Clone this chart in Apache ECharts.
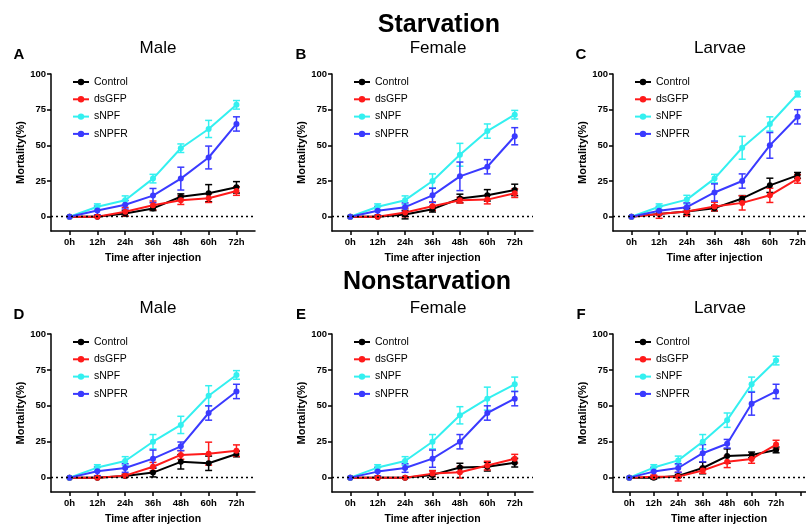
<!DOCTYPE html>
<html>
<head>
<meta charset="utf-8">
<script src="https://cdn.jsdelivr.net/npm/echarts@6/dist/echarts.min.js"></script>
<style>
  html, body { margin: 0; padding: 0; background: #fff; }
  #chart { width: 806px; height: 526px; }
</style>
</head>
<body>
<div id="chart"></div>
<script>
const hours = [0, 12, 24, 36, 48, 60, 72];
const groups = ['Control', 'dsGFP', 'sNPF', 'sNPFR'];
const colors = ['#000000', '#ff1a1a', '#33f0f0', '#3a3aff'];
const yTicks = [0, 25, 50, 75, 100];

// A - starvation, male
const aControl = [0, 0, 2.3, 5.8, 14, 16.5, 20.6];
const aControlErr = [0, 0, 2, 1.5, 2, 6, 4];
const aDsGFP = [0, 0, 3.5, 8, 11.6, 13, 18];
const aDsGFPErr = [0, 0, 3, 3, 3, 3, 3];
const aSNPF = [0, 7, 11.6, 26.7, 48, 61.5, 78.4];
const aSNPFErr = [0, 2, 3, 3, 3, 6, 3];
const aSNPFR = [0, 4.4, 8.4, 14.8, 26.7, 41.5, 65];
const aSNPFRErr = [0, 3, 3, 5, 8, 8, 5];

// B - starvation, female
const bControl = [0, 0, 1.5, 5.3, 12.8, 15, 18.8];
const bControlErr = [0, 0, 3, 2, 3, 4, 4];
const bDsGFP = [0, 0, 3, 7.4, 11.6, 12, 16.5];
const bDsGFPErr = [0, 0, 3, 3, 2, 3, 3];
const bSNPF = [0, 7, 11.6, 25, 43.4, 60, 71.5];
const bSNPFErr = [0, 2, 3, 5, 8, 5, 3];
const bSNPFR = [0, 4.2, 6.7, 15, 28.3, 35, 56.4];
const bSNPFRErr = [0, 3, 3, 5, 10, 5, 6];

// C - starvation, larvae
const cControl = [0, 2, 3.7, 6, 12.8, 22, 29];
const cControlErr = [0, 0, 2, 2, 2, 5, 2];
const cDsGFP = [0, 1.9, 3.7, 7.2, 9.7, 15, 26.5];
const cDsGFPErr = [0, 3, 3, 3, 5, 5, 3];
const cSNPF = [0, 7, 12, 26.7, 48.3, 65, 86];
const cSNPFErr = [0, 2, 3, 3, 8, 5, 2];
const cSNPFR = [0, 4.2, 6.7, 17, 25, 50, 70];
const cSNPFRErr = [0, 3, 3, 6, 5, 9, 5];

// D - nonstarvation, male
const dControl = [0, 0, 1.2, 3.5, 11, 10, 16.5];
const dControlErr = [0, 0, 1, 3, 5, 5, 2];
const dDsGFP = [0, 0, 1.4, 7.6, 15.8, 16.7, 18.8];
const dDsGFPErr = [0, 0, 1, 3, 3, 8, 4];
const dSNPF = [0, 7, 11.6, 25, 36.7, 57, 71.5];
const dSNPFErr = [0, 2, 3, 5, 6, 7, 3];
const dSNPFR = [0, 4.4, 6.7, 13.2, 21.8, 45, 60];
const dSNPFRErr = [0, 3, 3, 6, 3, 5, 5];

// E - nonstarvation, female
const eControl = [0, 0, 0, 1.9, 7, 7.6, 10.4];
const eControlErr = [0, 0, 0, 3, 3, 3, 3];
const eDsGFP = [0, 0, 0, 2.8, 3.7, 8.4, 13.2];
const eDsGFPErr = [0, 0, 0, 2, 4, 3, 3];
const eSNPF = [0, 7, 11.6, 25, 43.4, 55, 65];
const eSNPFErr = [0, 2, 3, 5, 6, 8, 5];
const eSNPFR = [0, 4.2, 6.7, 13.2, 25, 45, 55];
const eSNPFRErr = [0, 3, 3, 6, 5, 5, 5];

// F - nonstarvation, larvae
const fControl = [0, 0, 1.2, 6.7, 15, 15.8, 19.3];
const fControlErr = [0, 1, 1, 4, 5, 2, 2];
const fDsGFP = [0, 0.7, 0.7, 5, 11, 13, 23];
const fDsGFPErr = [0, 1, 3, 2, 4, 3, 3];
const fSNPF = [0, 7, 12, 25, 40, 65, 81.5];
const fSNPFErr = [0, 2, 3, 5, 5, 5, 3];
const fSNPFR = [0, 4.2, 6.7, 17, 23.6, 51.5, 60];
const fSNPFRErr = [0, 3, 3, 6, 3, 8, 5];

const panels = [
  { letter: 'A', title: 'Male',   left: 51,  top: 74,  width: 204, height: 157, xMax: 80, vals: [aControl, aDsGFP, aSNPF, aSNPFR], errs: [aControlErr, aDsGFPErr, aSNPFErr, aSNPFRErr] },
  { letter: 'B', title: 'Female', left: 332, top: 74,  width: 201, height: 157, xMax: 80, vals: [bControl, bDsGFP, bSNPF, bSNPFR], errs: [bControlErr, bDsGFPErr, bSNPFErr, bSNPFRErr] },
  { letter: 'C', title: 'Larvae', left: 613, top: 74,  width: 203, height: 157, xMax: 80, vals: [cControl, cDsGFP, cSNPF, cSNPFR], errs: [cControlErr, cDsGFPErr, cSNPFErr, cSNPFRErr] },
  { letter: 'D', title: 'Male',   left: 51,  top: 334, width: 204, height: 158, xMax: 80, vals: [dControl, dDsGFP, dSNPF, dSNPFR], errs: [dControlErr, dDsGFPErr, dSNPFErr, dSNPFRErr] },
  { letter: 'E', title: 'Female', left: 332, top: 334, width: 201, height: 158, xMax: 80, vals: [eControl, eDsGFP, eSNPF, eSNPFR], errs: [eControlErr, eDsGFPErr, eSNPFErr, eSNPFRErr] },
  { letter: 'F', title: 'Larvae', left: 613, top: 334, width: 212, height: 158, xMax: 96, vals: [fControl, fDsGFP, fSNPF, fSNPFR], errs: [fControlErr, fDsGFPErr, fSNPFErr, fSNPFRErr] },
];
const titleX = [158, 438, 720];
const letterX = [19, 301, 581];

const font = "'Liberation Sans', Arial, sans-serif";

function renderErr(params, api) {
  const x = api.value(0);
  if (api.value(1) === api.value(2)) return null;
  const lo = api.coord([x, api.value(1)]);
  const hi = api.coord([x, api.value(2)]);
  const half = 3.5;
  const style = { stroke: api.visual('color'), lineWidth: 1.5 };
  return {
    type: 'group',
    children: [
      { type: 'line', shape: { x1: lo[0], y1: lo[1], x2: hi[0], y2: hi[1] }, style },
      { type: 'line', shape: { x1: lo[0] - half, y1: lo[1], x2: lo[0] + half, y2: lo[1] }, style },
      { type: 'line', shape: { x1: hi[0] - half, y1: hi[1], x2: hi[0] + half, y2: hi[1] }, style },
    ],
  };
}

const grid = [];
const xAxis = [];
const yAxis = [];
const legend = [];
const series = [];
const graphic = [];

panels.forEach((p, pi) => {
  grid.push({ left: p.left, top: p.top, width: p.width, height: p.height, outerBoundsMode: 'none', containLabel: false });
  const xTickVals = p.xMax > 80 ? hours.concat([84]) : hours;
  xAxis.push({
    type: 'value',
    gridIndex: pi,
    min: -8,
    max: p.xMax,
    name: 'Time after injection',
    nameLocation: 'middle',
    nameGap: 22,
    nameTextStyle: { fontSize: 10.5, fontWeight: 'bold', color: '#000', fontFamily: font },
    axisLine: { onZero: false, lineStyle: { color: '#000', width: 1.5 } },
    axisTick: { customValues: xTickVals, length: 4, lineStyle: { color: '#000', width: 1.5 } },
    axisLabel: { customValues: hours, margin: 6, fontSize: 9.5, fontWeight: 'bold', color: '#000', fontFamily: font, formatter: (v) => v + 'h' },
    splitLine: { show: false },
  });
  yAxis.push({
    type: 'value',
    gridIndex: pi,
    min: -10,
    max: 100,
    name: 'Mortality(%)',
    nameLocation: 'middle',
    nameGap: 25,
    nameTextStyle: { fontSize: 11, fontWeight: 'bold', color: '#000', fontFamily: font },
    axisLine: { show: true, onZero: false, lineStyle: { color: '#000', width: 1.5 } },
    axisTick: { show: true, customValues: yTicks, length: 4, lineStyle: { color: '#000', width: 1.5 } },
    axisLabel: { customValues: yTicks, margin: 5, fontSize: 9.5, fontWeight: 'bold', color: '#000', fontFamily: font },
    splitLine: { show: false },
  });
  legend.push({
    data: groups,
    orient: 'vertical',
    left: p.left + 21,
    top: p.top + 2,
    padding: 0,
    itemWidth: 16,
    itemHeight: 8,
    itemGap: 5.3,
    selectedMode: false,
    textStyle: { fontSize: 10.5, color: '#000', fontFamily: font, lineHeight: 12 },
  });

  const col = pi % 3;
  graphic.push({
    type: 'text', x: titleX[col], y: p.top - 26,
    style: { text: p.title, fontSize: 17, fontFamily: font, fill: '#000', align: 'center', verticalAlign: 'middle' },
  });
  graphic.push({
    type: 'text', x: letterX[col], y: p.top - 19,
    style: { text: p.letter, fontSize: 15, fontWeight: 'bold', fontFamily: font, fill: '#000', align: 'center', verticalAlign: 'middle' },
  });

  groups.forEach((g, gi) => {
    series.push({
      name: g,
      type: 'line',
      xAxisIndex: pi,
      yAxisIndex: pi,
      data: hours.map((h, i) => [h, p.vals[gi][i]]),
      color: colors[gi],
      symbol: 'circle',
      symbolSize: 6,
      lineStyle: { width: 2 },
      markLine: gi === 0 ? {
        silent: true,
        symbol: 'none',
        label: { show: false },
        lineStyle: { color: '#000', type: [2, 3], width: 1.3 },
        data: [{ yAxis: 0 }],
      } : undefined,
    });
    series.push({
      name: g + ' err',
      type: 'custom',
      xAxisIndex: pi,
      yAxisIndex: pi,
      color: colors[gi],
      renderItem: renderErr,
      encode: { x: 0, y: [1, 2] },
      data: hours.map((h, i) => [h, p.vals[gi][i] - p.errs[gi][i], p.vals[gi][i] + p.errs[gi][i]]),
    });
  });
});

graphic.push({
  type: 'text', x: 439, y: 25,
  style: { text: 'Starvation', fontSize: 25, fontWeight: 'bold', fontFamily: font, fill: '#000', align: 'center', verticalAlign: 'middle' },
});
graphic.push({
  type: 'text', x: 427, y: 282,
  style: { text: 'Nonstarvation', fontSize: 25, fontWeight: 'bold', fontFamily: font, fill: '#000', align: 'center', verticalAlign: 'middle' },
});

const chart = echarts.init(document.getElementById('chart'));
chart.setOption({
  animation: false,
  backgroundColor: '#fff',
  textStyle: { fontFamily: font },
  grid,
  xAxis,
  yAxis,
  legend,
  series,
  graphic,
});
</script>
</body>
</html>
